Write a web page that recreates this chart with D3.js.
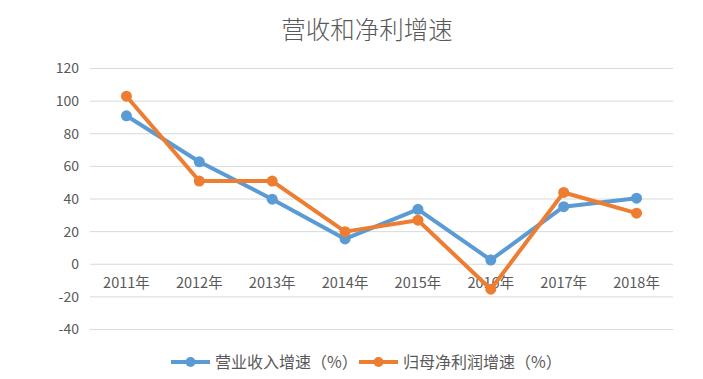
<!DOCTYPE html>
<html>
<head>
<meta charset="utf-8">
<script src="https://cdn.jsdelivr.net/npm/d3@7"></script>
<style>
body { margin: 0; background: #fff; }
text { font-family: "Noto Sans CJK SC", "Noto Sans", sans-serif; }
</style>
</head>
<body>
<div id="chart"></div>
<script>
var years = ["2011年", "2012年", "2013年", "2014年", "2015年", "2016年", "2017年", "2018年"];
var revenueGrowth = [91, 62.8, 39.9, 15.5, 33.7, 2.6, 35.3, 40.5];
var profitGrowth = [103, 51, 51, 20, 27, -15.3, 44, 31.3];
var yTicks = [-40, -20, 0, 20, 40, 60, 80, 100, 120];
var seriesNames = ["营业收入增速（%）", "归母净利润增速（%）"];

var w = 703;
var h = 379;
var colors = ["#5B9BD5", "#ED7D31"];

var svg = d3.select("#chart")
			.append("svg")
			.attr("width", w)
			.attr("height", h);

var xScale = d3.scaleBand()
				.domain(years)
				.range([90, 673]);

var yScale = d3.scaleLinear()
				.domain([-40, 120])
				.range([329.5, 68.5]);

// title
svg.append("text")
	.attr("x", 367)
	.attr("y", 39)
	.attr("text-anchor", "middle")
	.style("font-size", "24.5px")
	.style("font-weight", 300)
	.style("fill", "#595959")
	.text("营收和净利增速");

// gridlines
svg.append("g")
	.selectAll("line")
	.data(yTicks)
	.enter()
	.append("line")
	.attr("x1", 90)
	.attr("x2", 673)
	.attr("y1", function(d) { return yScale(d); })
	.attr("y2", function(d) { return yScale(d); })
	.style("stroke", "#D9D9D9")
	.style("stroke-width", 1);

// y labels
svg.append("g")
	.selectAll("text")
	.data(yTicks)
	.enter()
	.append("text")
	.attr("x", 79)
	.attr("y", function(d) { return yScale(d); })
	.attr("dy", "0.35em")
	.attr("text-anchor", "end")
	.style("font-size", "14px")
	.style("fill", "#595959")
	.text(function(d) { return d; });

// x labels
svg.append("g")
	.selectAll("text")
	.data(years)
	.enter()
	.append("text")
	.attr("x", function(d) { return xScale(d) + xScale.bandwidth() / 2; })
	.attr("y", yScale(0) + 19)
	.attr("dy", "0.35em")
	.attr("text-anchor", "middle")
	.style("font-size", "14.5px")
	.style("fill", "#595959")
	.text(function(d) { return d; });

var line = d3.line()
			.x(function(d, i) { return xScale(years[i]) + xScale.bandwidth() / 2; })
			.y(function(d) { return yScale(d); });

var allSeries = [revenueGrowth, profitGrowth];

allSeries.forEach(function(s, k) {
	var g = svg.append("g");
	g.append("path")
		.datum(s)
		.attr("d", line)
		.style("fill", "none")
		.style("stroke", colors[k])
		.style("stroke-width", 4)
		.style("stroke-linejoin", "round");
	g.selectAll("circle")
		.data(s)
		.enter()
		.append("circle")
		.attr("cx", function(d, i) { return xScale(years[i]) + xScale.bandwidth() / 2; })
		.attr("cy", function(d) { return yScale(d); })
		.attr("r", 5.5)
		.style("fill", colors[k]);
});

// legend
var legendX = [171, 359];
var legend = svg.append("g")
				.selectAll("g")
				.data(seriesNames)
				.enter()
				.append("g")
				.attr("transform", function(d, i) { return "translate(" + legendX[i] + ",362)"; });

legend.append("line")
	.attr("x1", 0)
	.attr("x2", 39)
	.style("stroke", function(d, i) { return colors[i]; })
	.style("stroke-width", 4);

legend.append("circle")
	.attr("cx", 19.5)
	.attr("r", 5)
	.style("fill", function(d, i) { return colors[i]; });

legend.append("text")
	.attr("x", 44)
	.attr("dy", "0.35em")
	.style("font-size", "16px")
	.style("fill", "#595959")
	.text(function(d) { return d; });
</script>
</body>
</html>
